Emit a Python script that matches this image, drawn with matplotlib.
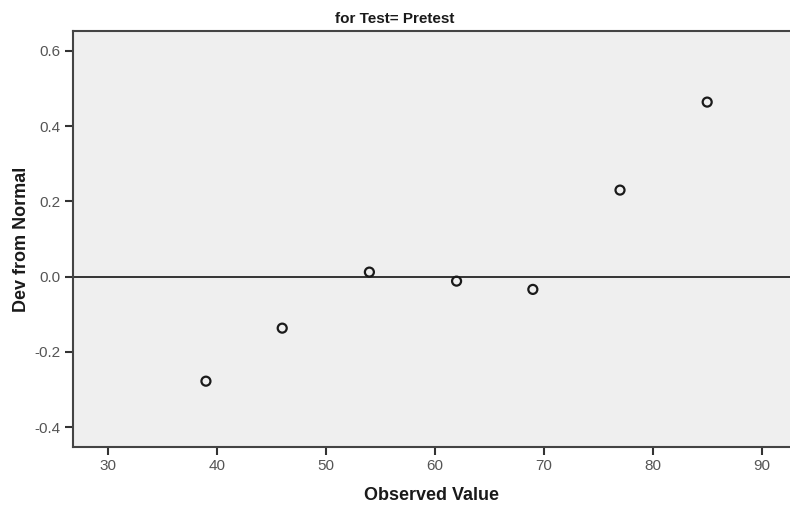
import matplotlib
matplotlib.use("Agg")
import matplotlib.pyplot as plt

observed = [39, 46, 54, 62, 69, 77, 85]
dev_from_normal = [-0.278, -0.137, 0.012, -0.012, -0.034, 0.230, 0.464]
x_ticks = [30, 40, 50, 60, 70, 80, 90]
y_ticks = [-0.4, -0.2, 0.0, 0.2, 0.4, 0.6]

plt.rcParams['font.family'] = ['Liberation Sans', 'DejaVu Sans']

fig = plt.figure(figsize=(7.9, 5.08), dpi=100)
ax = fig.add_axes([73/790, 1 - 447/508, 1 - 73/790, (447 - 31)/508])
ax.set_facecolor('#efefef')

ax.axhline(0, color='#333333', lw=1.4, zorder=1)
ax.scatter(observed, dev_from_normal, s=42, facecolors='none', edgecolors='#1a1a1a',
           linewidths=1.6, zorder=3)

ax.set_xlim(26.8, 92.6)
ax.set_ylim(-0.453, 0.653)
ax.set_xticks(x_ticks)
ax.set_yticks(y_ticks)
ax.set_xticklabels([str(v) for v in x_ticks])
ax.set_yticklabels([f"{v:.1f}" for v in y_ticks])

for side in ['left', 'bottom', 'top']:
    ax.spines[side].set_color('#444444')
    ax.spines[side].set_linewidth(1.5)
ax.spines['right'].set_visible(False)

ax.tick_params(axis='both', direction='out', length=6, width=1.5, color='#333333',
               labelcolor='#555555', labelsize=11, pad=3)

ax.set_xlabel('Observed Value', fontsize=13, fontweight='bold', color='#1a1a1a', labelpad=10)
ax.set_ylabel('Dev from Normal', fontsize=13, fontweight='bold', color='#1a1a1a', labelpad=3)
fig.text(0.5, 1 - 19/508, 'for Test= Pretest', ha='center', va='center',
         fontsize=11, fontweight='bold', color='#1a1a1a')

fig.savefig('out.png', dpi=100)
